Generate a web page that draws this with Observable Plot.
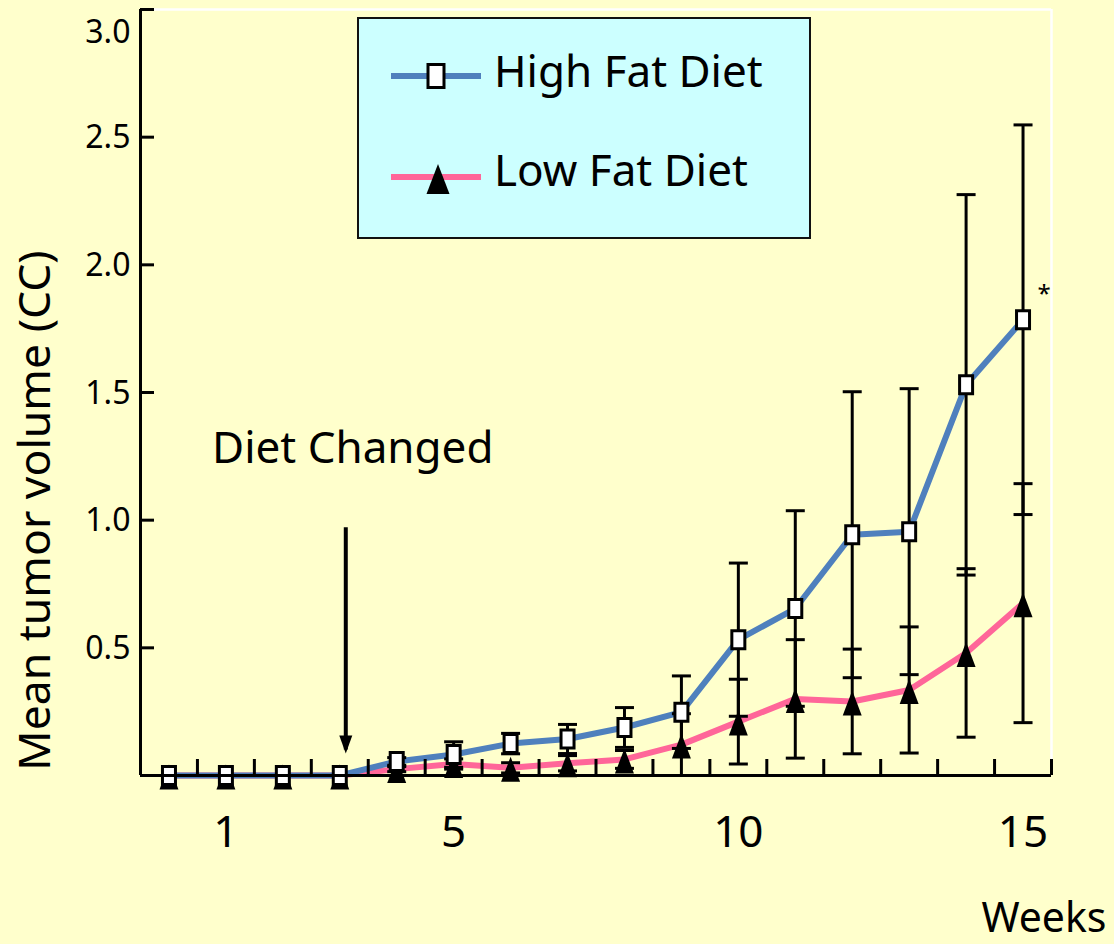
<!DOCTYPE html>
<html>
<head>
<meta charset="utf-8">
<script src="https://cdn.jsdelivr.net/npm/d3@7"></script>
<script src="https://cdn.jsdelivr.net/npm/@observablehq/plot@0.6"></script>
<style>
  html, body { margin: 0; padding: 0; background: #ffffcc; }
  #wrap { position: relative; width: 1114px; height: 944px; overflow: hidden; font-family: "Noto Sans", sans-serif; }
  #legend { position: absolute; left: 357px; top: 17px; width: 454px; height: 222px; box-sizing: border-box;
            border: 2px solid #111; background: #ccffff; }
  #legend svg { position: absolute; left: 0; top: 0; }
</style>
</head>
<body>
<div id="wrap">
  <div id="chart"></div>
  <div id="legend"></div>
</div>
<script>
// Weeks after tumour implantation
const weeks = [0, 1, 2, 3, 4, 5, 6, 7, 8, 9, 10, 11, 12, 13, 14, 15];

// Mean tumour volume (cc) and error half-widths per diet group
const highFatMean = [0, 0, 0, 0, 0.055, 0.082, 0.125, 0.143, 0.188, 0.248, 0.532, 0.654, 0.943, 0.955, 1.53, 1.785];
const highFatErr  = [0, 0, 0, 0, 0.015, 0.05, 0.04, 0.057, 0.078, 0.142, 0.30, 0.383, 0.56, 0.56, 0.745, 0.763];
const lowFatMean  = [0, 0, 0, 0, 0.025, 0.045, 0.03, 0.048, 0.063, 0.121, 0.211, 0.30, 0.29, 0.335, 0.48, 0.675];
const lowFatErr   = [0, 0, 0, 0, 0.01, 0.02, 0.02, 0.03, 0.035, 0.121, 0.166, 0.232, 0.205, 0.247, 0.33, 0.468];

const seriesNames  = ["High Fat Diet", "Low Fat Diet"];
const seriesColors = ["#4f80bd", "#ff6699"];

// Axis ticks and labels
const yTicks = [0.5, 1.0, 1.5, 2.0, 2.5, 3.0];
const yTickLabels = [0.5, 1.0, 1.5, 2.0, 2.5];
const yTopLabel = [3.0];
const xMinorTicks = [0.5, 1.5, 2.5, 3.5, 4.5, 5.5, 6.5, 7.5, 8.5, 9.5, 10.5, 11.5, 12.5, 13.5, 14.5, 15.5];
const xLabels = [1, 5, 10, 15];
const xTitle = "Weeks";
const yTitle = "Mean tumor volume (CC)";

// Annotation: week the diet was switched, and significance marker on the last week
const dietChange = [{week: 3, from: 0.97, to: 0.1, tip: 0.086, labelY: 1.28, label: "Diet Changed"}];
const significance = [{week: 15, value: 1.785, label: "*"}];

const rows = (mean, err) => weeks.map((w, i) => ({week: w, mean: mean[i], lower: mean[i] - err[i], upper: mean[i] + err[i], err: err[i]}));
const high = rows(highFatMean, highFatErr);
const low = rows(lowFatMean, lowFatErr);
const highBars = high.filter(d => d.err > 0);
const lowBars = low.filter(d => d.err > 0);

// Marker shapes (hollow rectangle, filled triangle, error-bar cap, arrow head)
const rectShape = (w, h) => ({draw(c) { c.moveTo(-w / 2, -h / 2); c.lineTo(w / 2, -h / 2); c.lineTo(w / 2, h / 2); c.lineTo(-w / 2, h / 2); c.closePath(); }});
const triShape = (w, up, down) => ({draw(c) { c.moveTo(0, -up); c.lineTo(w / 2, down); c.lineTo(-w / 2, down); c.closePath(); }});
const capShape = {draw(c) { c.moveTo(-9.5, 0); c.lineTo(9.5, 0); }};
const headShape = {draw(c) { c.moveTo(0, 0); c.lineTo(6.5, -18); c.lineTo(-6.5, -18); c.closePath(); }};

const squareMark = rectShape(13, 18);
const triangleMark = triShape(19, 11, 14);

const chart = Plot.plot({
  width: 1114,
  height: 944,
  marginLeft: 140,
  marginRight: 63,
  marginTop: 9,
  marginBottom: 169,
  x: {domain: [-0.5, 15.5]},
  y: {domain: [0, 3]},
  style: {background: "#ffffcc", fontFamily: "Noto Sans", color: "black"},
  marks: [
    // light frame edges at top and right
    Plot.ruleY([3], {stroke: "white", strokeWidth: 2.5}),
    Plot.ruleX([15.5], {stroke: "white", strokeWidth: 2.5}),

    // series lines
    Plot.line(low, {x: "week", y: "mean", stroke: seriesColors[1], strokeWidth: 6}),
    Plot.line(high, {x: "week", y: "mean", stroke: seriesColors[0], strokeWidth: 6}),

    // error bars
    Plot.ruleX(highBars, {x: "week", y1: "lower", y2: "upper", stroke: "black", strokeWidth: 3}),
    Plot.ruleX(lowBars, {x: "week", y1: "lower", y2: "upper", stroke: "black", strokeWidth: 3}),
    Plot.dot(highBars, {x: "week", y: "upper", symbol: capShape, fill: "none", stroke: "black", strokeWidth: 3}),
    Plot.dot(highBars, {x: "week", y: "lower", symbol: capShape, fill: "none", stroke: "black", strokeWidth: 3}),
    Plot.dot(lowBars, {x: "week", y: "upper", symbol: capShape, fill: "none", stroke: "black", strokeWidth: 3}),
    Plot.dot(lowBars, {x: "week", y: "lower", symbol: capShape, fill: "none", stroke: "black", strokeWidth: 3}),

    // markers
    Plot.dot(low, {x: "week", y: "mean", symbol: triangleMark, fill: "black", stroke: "none"}),
    Plot.dot(high, {x: "week", y: "mean", symbol: squareMark, fill: "white", stroke: "black", strokeWidth: 3}),

    // axis lines
    Plot.ruleX([-0.5], {y1: 0, y2: 3, stroke: "black", strokeWidth: 3}),
    Plot.ruleY([0], {stroke: "black", strokeWidth: 3}),

    // inward ticks
    Plot.axisY({ticks: yTicks, tickSize: 14, dx: 14, fill: "none", stroke: "black", strokeWidth: 3, label: null}),
    Plot.axisX({ticks: xMinorTicks, tickSize: 16, dy: -16, fill: "none", stroke: "black", strokeWidth: 3, label: null}),

    // tick labels
    Plot.axisY({ticks: yTickLabels, tickSize: 0, tickPadding: 10, fontSize: 32, tickFormat: d3.format(".1f"), dy: 1, label: null}),
    Plot.text(yTopLabel, {y: d => d, frameAnchor: "left", text: d3.format(".1f"), textAnchor: "end", dx: -10, dy: 23, fontSize: 32}),
    Plot.axisX({ticks: xLabels, tickSize: 0, tickPadding: 40, fontSize: 44, label: null}),

    // axis titles
    Plot.text([xTitle], {frameAnchor: "bottom-right", text: d => d, textAnchor: "end", lineAnchor: "middle", dx: 55, dy: 143, fontSize: 41}),
    Plot.text([yTitle], {frameAnchor: "left", text: d => d, rotate: -90, textAnchor: "middle", lineAnchor: "middle", dx: -105, dy: 118, fontSize: 44.5}),

    // diet-change annotation
    Plot.ruleX(dietChange, {x: "week", y1: "from", y2: "to", stroke: "black", strokeWidth: 4, dx: 6}),
    Plot.dot(dietChange, {x: "week", y: "tip", symbol: headShape, fill: "black", stroke: "none", dx: 6}),
    Plot.text(dietChange, {x: "week", y: "labelY", text: "label", fontSize: 44, dx: 13, lineAnchor: "middle"}),

    // significance marker
    Plot.text(significance, {x: "week", y: "value", text: "label", fontSize: 24, dx: 21, dy: -25, lineAnchor: "middle"})
  ]
});
document.getElementById("chart").append(chart);

// Legend: line swatch with marker, then the series name
const legendSymbols = [rectShape(16, 23), triShape(23, 14, 16)];
const legendFills = ["white", "black"];
const legendStrokes = ["black", "none"];
const rowLineY = [57, 158];
const rowTextY = [68, 167];

const lsvg = d3.create("svg").attr("width", 450).attr("height", 218)
  .style("font-family", "'Noto Sans', sans-serif");
seriesNames.forEach((name, i) => {
  const g = lsvg.append("g");
  g.append("line").attr("x1", 32).attr("x2", 122).attr("y1", rowLineY[i]).attr("y2", rowLineY[i])
    .attr("stroke", seriesColors[i]).attr("stroke-width", 6);
  g.append("path").attr("d", d3.symbol(legendSymbols[i])())
    .attr("transform", `translate(${i === 0 ? 77 : 79},${rowLineY[i] + (i === 0 ? 0 : 1)})`)
    .attr("fill", legendFills[i]).attr("stroke", legendStrokes[i]).attr("stroke-width", 3);
  g.append("text").attr("x", 135).attr("y", rowTextY[i]).attr("font-size", 44).attr("fill", "black").text(name);
});
document.getElementById("legend").append(lsvg.node());
</script>
</body>
</html>
